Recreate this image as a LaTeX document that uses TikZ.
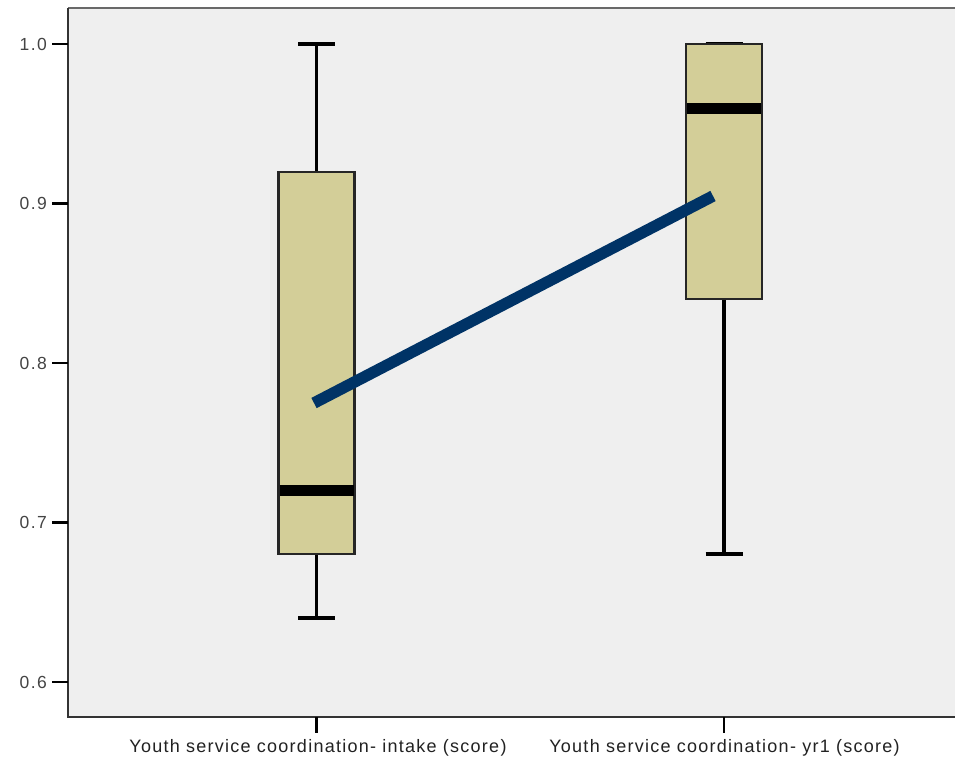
\documentclass[tikz,border=0pt]{standalone}
\usepackage{fontspec}
\setmainfont{Liberation Sans}
\newfontfamily\labfont[LetterSpace=7]{Liberation Sans}
\newfontfamily\tickfont[LetterSpace=8]{Liberation Sans}
\definecolor{plotbg}{HTML}{EFEFEF}
\definecolor{boxfill}{HTML}{D3CE98}
\definecolor{meanline}{HTML}{003366}
\definecolor{axisgray}{HTML}{444444}
\definecolor{txt}{HTML}{222222}
\tikzset{
  whisk/.style={line width=3.2pt, black},
  boxst/.style={draw=black!85, line width=2.6pt, fill=boxfill},
  medst/.style={line width=11pt, black},
  ticklab/.style={anchor=east, font=\tickfont\fontsize{17.5}{19}\selectfont, text=axisgray, inner sep=0pt},
  catlab/.style={anchor=center, font=\labfont\fontsize{18}{20}\selectfont, text=txt, inner sep=0pt},
}
\begin{document}
\begin{tikzpicture}[x=1pt,y=-1pt]
\useasboundingbox (0,0) rectangle (955,761);
\fill[white] (0,0) rectangle (955,761);
% plot area
\fill[plotbg] (68,8) rectangle (955,717);
\draw[axisgray!80, line width=1.8pt] (68,8) -- (955,8);
\draw[black!80, line width=2.4pt] (955,717) -- (68,717) -- (68,8);
% y ticks
\foreach \v/\y in {1.0/44, 0.9/203.5, 0.8/363, 0.7/522.5, 0.6/682} {
  \draw[black, line width=2.6pt] (52,\y) -- (68,\y);
  \node[ticklab] at (47,\y) {\v};
}
% x ticks
\draw[black, line width=2.6pt] (316.5,717) -- (316.5,733);
\draw[black, line width=2.6pt] (724,717) -- (724,733);
\node[catlab] (lab1) at (318,748) {Youth service coordination- intake (score)};
\node[catlab] (lab2) at (724.5,748) {Youth service coordination- yr1 (score)};
% box 1
\draw[whisk] (316.5,44) -- (316.5,172);
\draw[whisk] (298,44) -- (335,44);
\draw[whisk] (316.5,554) -- (316.5,618);
\draw[whisk] (298,618) -- (335,618);
\draw[boxst] (278.5,172) rectangle (354.5,554);
\draw[medst] (279.5,490.5) -- (353.5,490.5);
% box 2
\draw[whisk] (724,299) -- (724,554);
\draw[whisk] (705.5,554) -- (742.5,554);
\draw[whisk] (705.5,44) -- (742.5,44);
\draw[boxst] (686,44) rectangle (762,299);
\draw[medst] (687,108) -- (761,108);
% mean line
\coordinate (m1) at (314,403);
\coordinate (m2) at (713,196);
\draw[meanline, line width=11.5pt] (m1) -- (m2);
\end{tikzpicture}
\end{document}
